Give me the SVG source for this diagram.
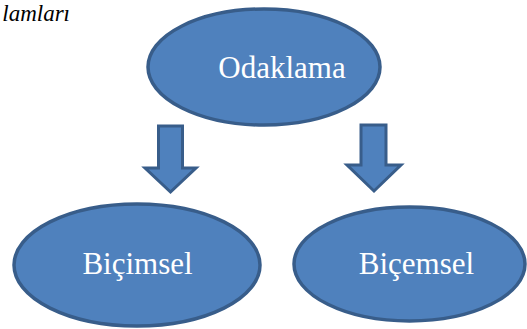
<svg xmlns="http://www.w3.org/2000/svg" width="527" height="329" viewBox="0 0 527 329">
<style>
.node{fill:#4F81BD;stroke:#385D8A;stroke-width:3.5}
.arrow{fill:#4F81BD;stroke:#385D8A;stroke-width:3;stroke-linejoin:miter}
.lbl{font-family:'Liberation Serif','Times New Roman','DejaVu Serif',serif;font-size:31px;fill:#FFFFFF;text-anchor:middle}
.title{font-family:'Liberation Serif','Times New Roman','DejaVu Serif',serif;font-size:23px;font-style:italic;fill:#000000;text-anchor:end}
</style>
<rect width="527" height="329" fill="#FFFFFF"/>
<text class="title" x="70" y="21">lamları</text>
<g id="odaklama">
<ellipse class="node" cx="264" cy="67" rx="116" ry="58"/>
<text class="lbl" x="282" y="78">Odaklama</text>
</g>
<g id="connectors">
<path class="arrow" d="M158.5,126 L182.5,126 L182.5,168 L196,168 L170.5,192 L145,168 L158.5,168 Z"/>
<path class="arrow" d="M361,125 L386,125 L386,165 L401,165 L374,191 L347,165 L361,165 Z"/>
</g>
<g id="bicimsel">
<ellipse class="node" cx="137" cy="265" rx="123" ry="61"/>
<text class="lbl" x="137.5" y="274">Biçimsel</text>
</g>
<g id="bicemsel">
<ellipse class="node" cx="409.5" cy="264" rx="115.5" ry="57"/>
<text class="lbl" x="416.5" y="274">Biçemsel</text>
</g>
</svg>
